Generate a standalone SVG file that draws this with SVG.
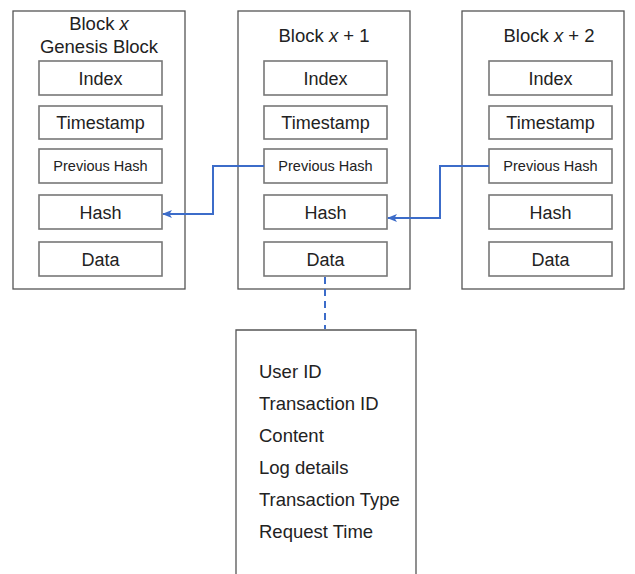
<svg xmlns="http://www.w3.org/2000/svg" width="635" height="574" viewBox="0 0 635 574">
<defs>
<style>
.outer{fill:#fff;stroke:#555;stroke-width:1.3}
.inner{fill:#fff;stroke:#777;stroke-width:1.6}
text{font-family:"Liberation Sans",Arial,sans-serif;fill:#222}
.t{font-size:18.5px;text-anchor:middle}
.f{font-size:18px;text-anchor:middle}
.s{font-size:14.5px;text-anchor:middle}
.l{font-size:18.5px}
.conn{fill:none;stroke:#3c6cc9;stroke-width:2}
</style>
<marker id="ah" markerWidth="10" markerHeight="8" refX="9" refY="4" orient="auto" markerUnits="userSpaceOnUse">
<path d="M0,0 L10,4 L0,8 L2.5,4 Z" fill="#3c6cc9"/>
</marker>
</defs>
<rect width="635" height="574" fill="#fff"/>
<g id="block-x">
<rect class="outer" x="13" y="11" width="172" height="278"/>
<text class="t" x="99" y="30">Block <tspan font-style="italic">x</tspan></text>
<text class="t" x="99" y="53">Genesis Block</text>
<rect class="inner" x="39" y="61" width="123" height="34"/><text class="f" x="100.5" y="85">Index</text>
<rect class="inner" x="39" y="106" width="123" height="33"/><text class="f" x="100.5" y="129">Timestamp</text>
<rect class="inner" x="39" y="149" width="123" height="34"/><text class="s" x="100.5" y="171">Previous Hash</text>
<rect class="inner" x="39" y="195" width="123" height="34"/><text class="f" x="100.5" y="219">Hash</text>
<rect class="inner" x="39" y="242" width="123" height="34"/><text class="f" x="100.5" y="266">Data</text>
</g>
<g id="block-x1">
<rect class="outer" x="238" y="11" width="172" height="278"/>
<text class="t" x="324" y="42">Block <tspan font-style="italic">x</tspan> + 1</text>
<rect class="inner" x="264" y="61" width="123" height="34"/><text class="f" x="325.5" y="85">Index</text>
<rect class="inner" x="264" y="106" width="123" height="33"/><text class="f" x="325.5" y="129">Timestamp</text>
<rect class="inner" x="264" y="149" width="123" height="34"/><text class="s" x="325.5" y="171">Previous Hash</text>
<rect class="inner" x="264" y="195" width="123" height="34"/><text class="f" x="325.5" y="219">Hash</text>
<rect class="inner" x="264" y="242" width="123" height="34"/><text class="f" x="325.5" y="266">Data</text>
</g>
<g id="block-x2">
<rect class="outer" x="462" y="11" width="162" height="278"/>
<text class="t" x="549" y="42">Block <tspan font-style="italic">x</tspan> + 2</text>
<rect class="inner" x="489" y="61" width="123" height="34"/><text class="f" x="550.5" y="85">Index</text>
<rect class="inner" x="489" y="106" width="123" height="33"/><text class="f" x="550.5" y="129">Timestamp</text>
<rect class="inner" x="489" y="149" width="123" height="34"/><text class="s" x="550.5" y="171">Previous Hash</text>
<rect class="inner" x="489" y="195" width="123" height="34"/><text class="f" x="550.5" y="219">Hash</text>
<rect class="inner" x="489" y="242" width="123" height="34"/><text class="f" x="550.5" y="266">Data</text>
</g>
<g id="data-details">
<path class="outer" d="M236,580 V330 H416 V580"/>
<text class="l" x="259" y="378">User ID</text>
<text class="l" x="259" y="410">Transaction ID</text>
<text class="l" x="259" y="442">Content</text>
<text class="l" x="259" y="474">Log details</text>
<text class="l" x="259" y="506">Transaction Type</text>
<text class="l" x="259" y="538">Request Time</text>
</g>
<g id="connectors">
<path class="conn" d="M264,166 H213 V214 H163" marker-end="url(#ah)"/>
<path class="conn" d="M489,166 H440 V218 H388" marker-end="url(#ah)"/>
<path class="conn" d="M325,277 V329" stroke-dasharray="7,5" stroke-width="1.6"/>
</g>
</svg>
